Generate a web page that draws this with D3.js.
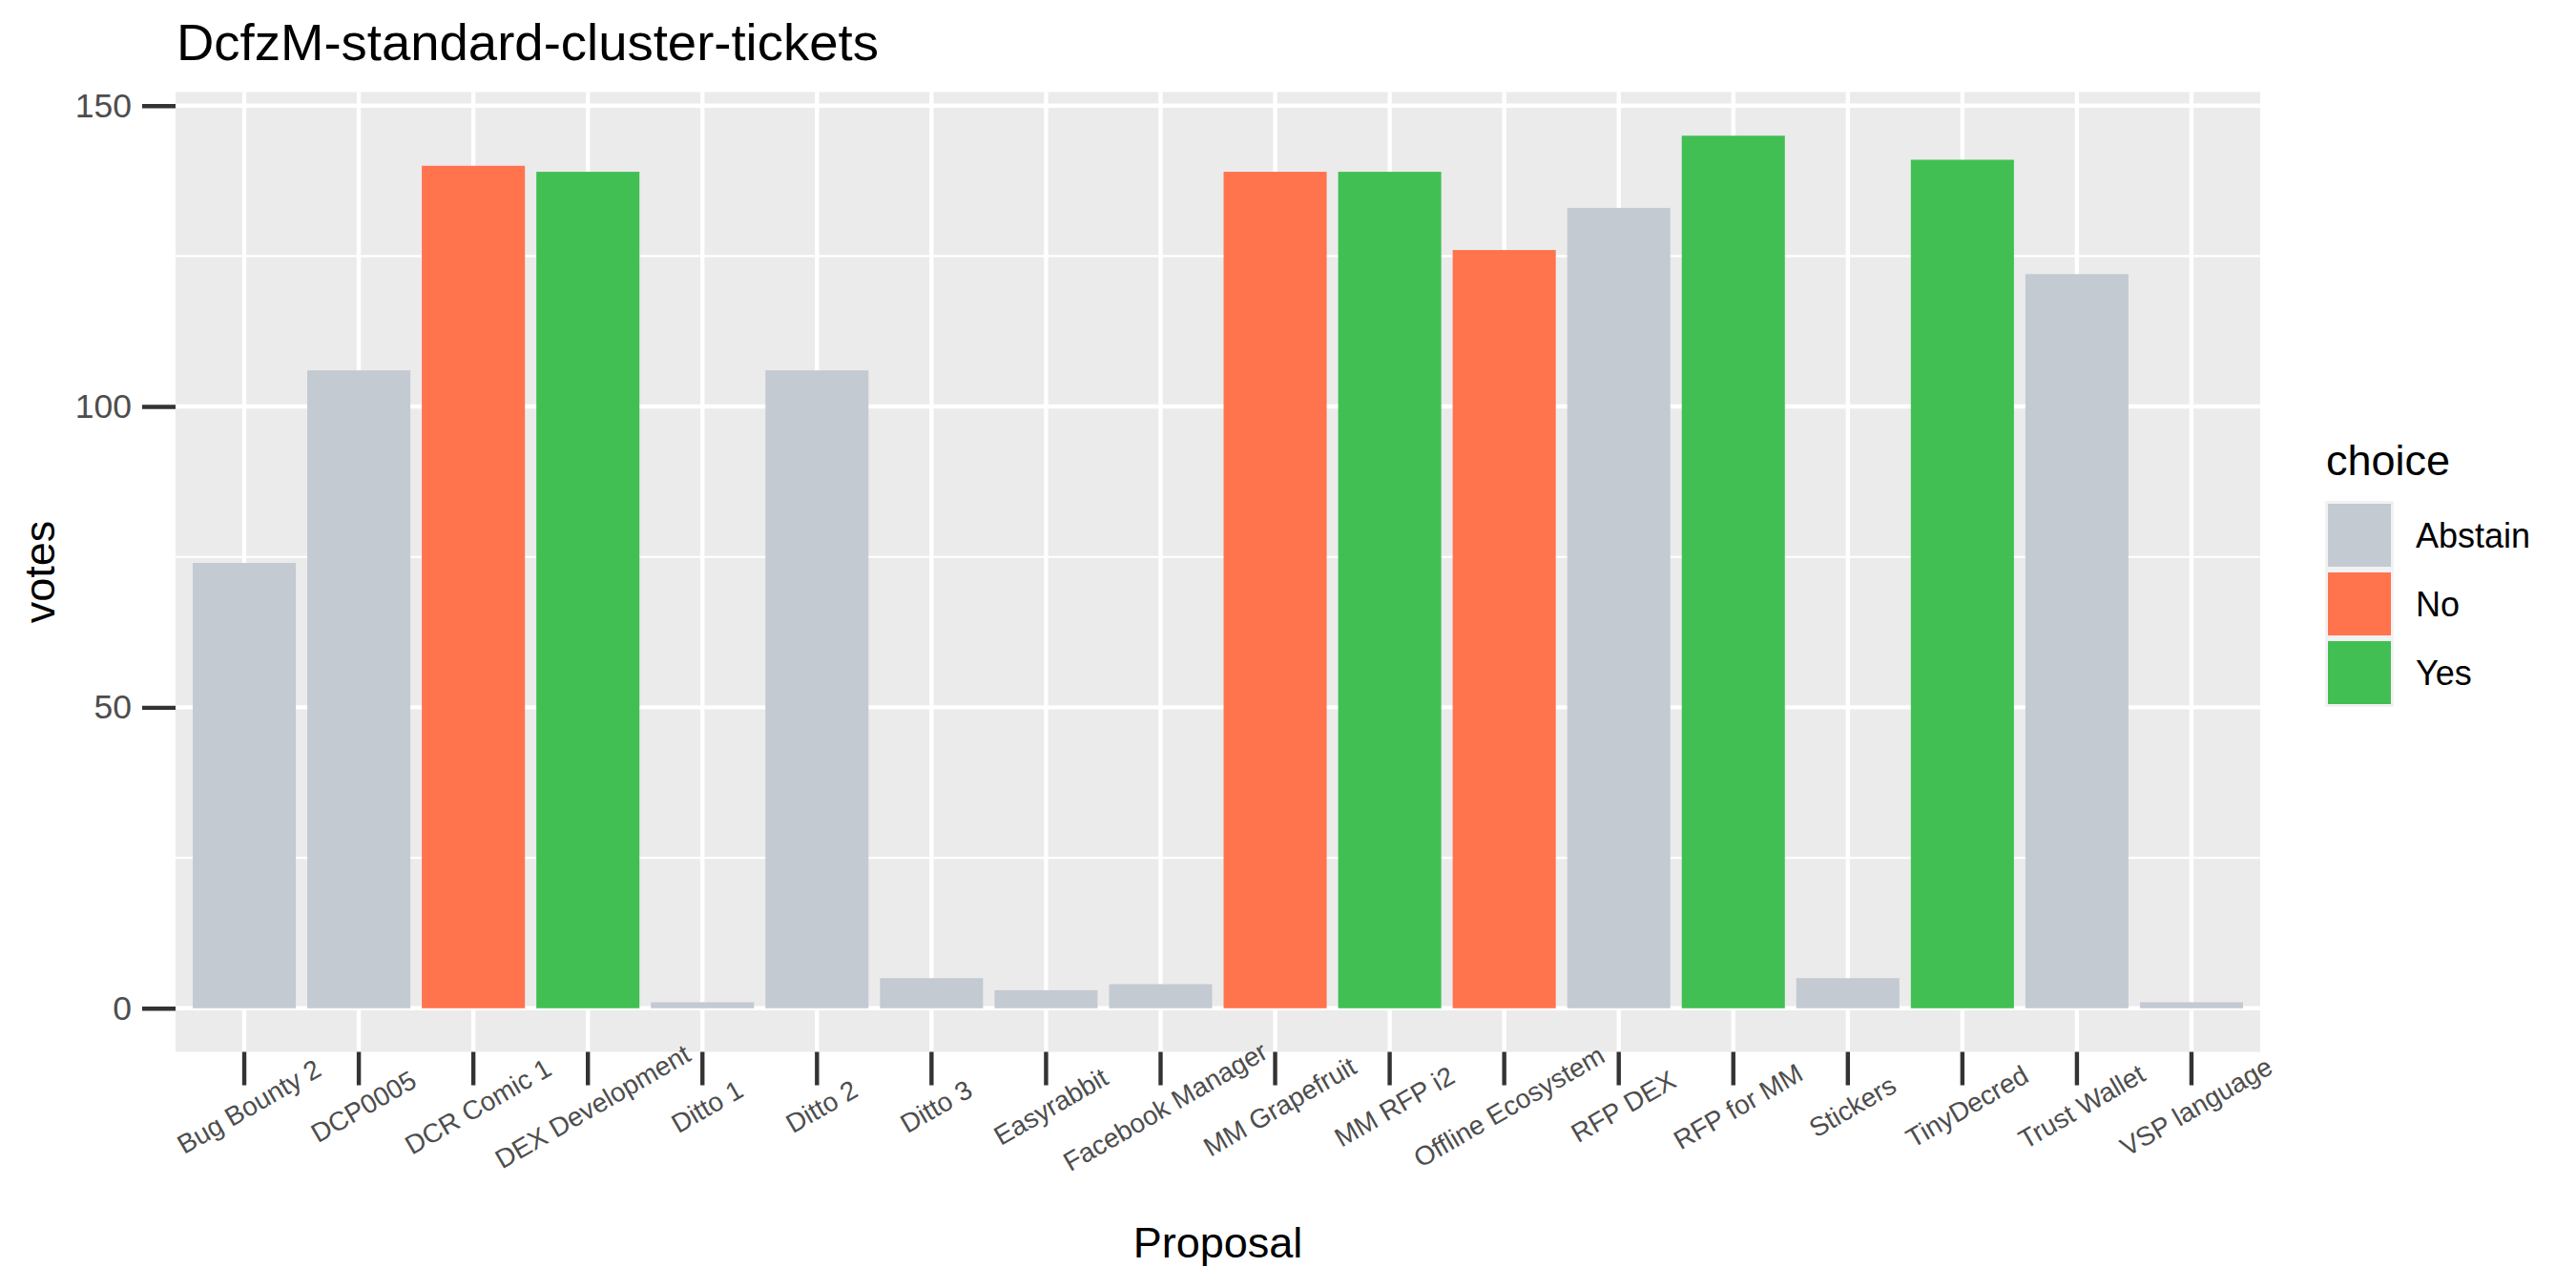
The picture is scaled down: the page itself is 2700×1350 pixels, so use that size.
<!DOCTYPE html>
<html>
<head>
<meta charset="utf-8">
<script src="https://cdn.jsdelivr.net/npm/d3@7"></script>
<style>
  html, body { margin: 0; padding: 0; background: #ffffff; }
  svg { display: block; font-family: "Liberation Sans", Arial, sans-serif; }
</style>
</head>
<body>
<svg id="chart" width="2700" height="1350"></svg>
<script>
// ---- data ----
const proposals = ["Bug Bounty 2", "DCP0005", "DCR Comic 1", "DEX Development", "Ditto 1", "Ditto 2",
  "Ditto 3", "Easyrabbit", "Facebook Manager", "MM Grapefruit", "MM RFP i2", "Offline Ecosystem",
  "RFP DEX", "RFP for MM", "Stickers", "TinyDecred", "Trust Wallet", "VSP language"];
const votes = [74, 106, 140, 139, 1, 106, 5, 3, 4, 139, 139, 126, 133, 145, 5, 141, 122, 1];
const choices = ["Abstain", "Abstain", "No", "Yes", "Abstain", "Abstain", "Abstain", "Abstain", "Abstain",
  "No", "Yes", "No", "Abstain", "Yes", "Abstain", "Yes", "Abstain", "Abstain"];
const choiceLevels = ["Abstain", "No", "Yes"];
const choiceColors = ["#C4CAD2", "#FF734D", "#42BF53"];
const yTicks = [0, 50, 100, 150];
const yMinor = [25, 75, 125];

const title = "DcfzM-standard-cluster-tickets";
const xTitle = "Proposal";
const yTitle = "votes";
const legendTitle = "choice";

// ---- layout ----
const panel = { left: 184, right: 2369, top: 96.5, bottom: 1102.5 };
const svg = d3.select("#chart");

const maxV = d3.max(votes);
const padV = maxV * 0.05;
const y = d3.scaleLinear().domain([0 - padV, maxV + padV]).range([panel.bottom, panel.top]);
const x = d3.scaleBand().domain(proposals).range([panel.left, panel.right])
  .paddingInner(0.1).paddingOuter(0.15);
const color = d3.scaleOrdinal().domain(choiceLevels).range(choiceColors);

const data = proposals.map((p, i) => ({ p, v: votes[i], c: choices[i] }));

// panel background
svg.append("rect")
  .attr("x", panel.left).attr("y", panel.top)
  .attr("width", panel.right - panel.left).attr("height", panel.bottom - panel.top)
  .attr("fill", "#EBEBEB");

// grid
const grid = svg.append("g");
grid.selectAll("line.minor").data(yMinor).enter().append("line")
  .attr("x1", panel.left).attr("x2", panel.right)
  .attr("y1", d => y(d)).attr("y2", d => y(d))
  .attr("stroke", "#FFFFFF").attr("stroke-width", 2.2);
grid.selectAll("line.major").data(yTicks).enter().append("line")
  .attr("x1", panel.left).attr("x2", panel.right)
  .attr("y1", d => y(d)).attr("y2", d => y(d))
  .attr("stroke", "#FFFFFF").attr("stroke-width", 4.4);
grid.selectAll("line.vert").data(proposals).enter().append("line")
  .attr("x1", d => x(d) + x.bandwidth() / 2).attr("x2", d => x(d) + x.bandwidth() / 2)
  .attr("y1", panel.top).attr("y2", panel.bottom)
  .attr("stroke", "#FFFFFF").attr("stroke-width", 4.4);

// bars
svg.append("g").selectAll("rect").data(data).enter().append("rect")
  .attr("x", d => x(d.p))
  .attr("width", x.bandwidth())
  .attr("y", d => y(d.v))
  .attr("height", d => y(0) - y(d.v))
  .attr("fill", d => color(d.c));

// y axis
const yAxis = svg.append("g")
  .attr("transform", `translate(${panel.left},0)`)
  .call(d3.axisLeft(y).tickValues(yTicks).tickSize(35).tickPadding(11).tickFormat(d3.format("d")));
yAxis.select(".domain").remove();
yAxis.selectAll(".tick line").attr("stroke", "#333333").attr("stroke-width", 4.4);
yAxis.selectAll(".tick text").attr("fill", "#4D4D4D").attr("font-size", 35.5)
  .attr("font-family", "Liberation Sans, Arial, sans-serif");

// x axis
const xAxis = svg.append("g")
  .attr("transform", `translate(0,${panel.bottom})`)
  .call(d3.axisBottom(x).tickSize(35));
xAxis.select(".domain").remove();
xAxis.selectAll(".tick line").attr("stroke", "#333333").attr("stroke-width", 4.4);
xAxis.selectAll(".tick text")
  .attr("y", null).attr("dy", null)
  .attr("transform", "translate(5,57.5) rotate(-30)")
  .attr("text-anchor", "middle")
  .attr("dominant-baseline", "central")
  .attr("fill", "#4D4D4D").attr("font-size", 28)
  .attr("font-family", "Liberation Sans, Arial, sans-serif");

// title
svg.append("text").attr("x", 185).attr("y", 63)
  .attr("font-size", 54.5).attr("fill", "#000").text(title);

// axis titles
svg.append("text").attr("x", (panel.left + panel.right) / 2).attr("y", 1318)
  .attr("text-anchor", "middle").attr("font-size", 45).attr("fill", "#000").text(xTitle);
svg.append("text").attr("transform", `translate(57,${(panel.top + panel.bottom) / 2}) rotate(-90)`)
  .attr("text-anchor", "middle").attr("font-size", 45).attr("fill", "#000").text(yTitle);

// legend
const lg = svg.append("g");
lg.append("text").attr("x", 2438).attr("y", 498).attr("font-size", 45).attr("fill", "#000").text(legendTitle);
const keyX = 2437, keyY = 525, keySize = 72;
lg.append("rect").attr("x", keyX).attr("y", keyY).attr("width", keySize)
  .attr("height", keySize * choiceLevels.length).attr("fill", "#F2F2F2");
choiceLevels.forEach((c, i) => {
  lg.append("rect").attr("x", keyX + 3).attr("y", keyY + i * keySize + 3)
    .attr("width", keySize - 6).attr("height", keySize - 6).attr("fill", color(c));
  lg.append("text").attr("x", 2532).attr("y", keyY + i * keySize + keySize / 2)
    .attr("dy", "0.35em").attr("font-size", 36).attr("fill", "#000").text(c);
});
</script>
</body>
</html>
